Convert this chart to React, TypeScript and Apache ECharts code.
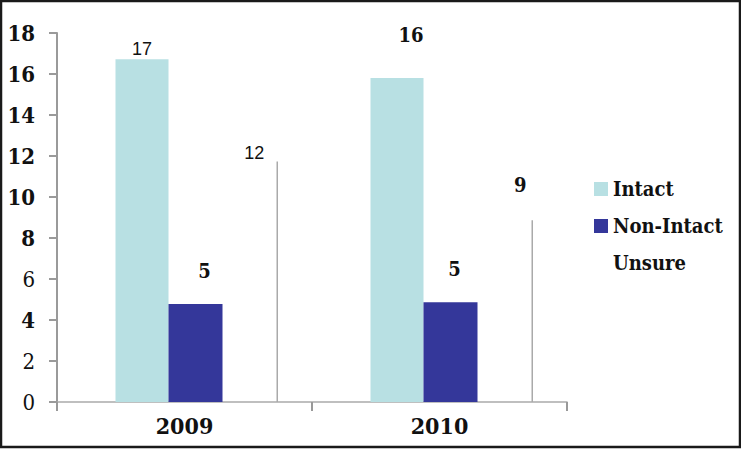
import React, { useEffect, useRef } from "react";
import * as echarts from "echarts";

const CATEGORIES = ["2009", "2010"];
const SERIES_NAMES = ["Intact", "Non-Intact", "Unsure"];
const INTACT = [16.72, 15.8];
const NON_INTACT = [4.78, 4.86];
const UNSURE = [11.73, 8.86];
const Y_TICKS_BOLD = [4, 8, 10, 12, 14, 16, 18];

const SERIF = "DejaVu Serif Condensed";
const SANS = "Liberation Sans";

const sansLabel = { fontFamily: SANS, fontSize: 18, fontWeight: "normal" as const };
const serifLabel = { fontFamily: SERIF, fontSize: 20, fontWeight: "bold" as const };

// label placement styles per data point (layout only)
const INTACT_LABELS = [
  { ...sansLabel, distance: 1, offset: [0, 0] },
  { ...serifLabel, distance: 33, offset: [14, 0] },
];
const NON_INTACT_LABELS = [
  { ...serifLabel, distance: 23, offset: [9, 0] },
  { ...serifLabel, distance: 23, offset: [4, 0] },
];
const UNSURE_LABELS = [
  { ...sansLabel, distance: 0, offset: [-23, 0] },
  { ...serifLabel, distance: 25, offset: [-12, 0] },
];

function withLabels(values: number[], styles: any[]) {
  return values.map((v, i) => ({
    value: v,
    label: {
      show: true,
      position: "top",
      color: "#111",
      formatter: (p: any) => String(Math.round(p.value)),
      ...styles[i],
    },
  }));
}

export default function App() {
  const ref = useRef<HTMLDivElement>(null);

  useEffect(() => {
    if (!ref.current) return;
    const chart = echarts.init(ref.current, undefined, { renderer: "svg" });
    const zeros = CATEGORIES.map(() => 0);
    const spacer = (w: number) => ({
      type: "bar",
      name: "_spacer",
      data: zeros,
      barWidth: w,
      barGap: "0%",
      silent: true,
      itemStyle: { color: "rgba(0,0,0,0)" },
      label: { show: false },
    });
    chart.setOption({
      animation: false,
      backgroundColor: "#ffffff",
      grid: { left: 57, right: 174, top: 33, bottom: 47, containLabel: false },
      legend: {
        orient: "vertical",
        left: 589,
        top: 172,
        itemWidth: 14,
        itemHeight: 14,
        itemGap: 13,
        icon: "rect",
        selectedMode: false,
        data: [
          { name: SERIES_NAMES[0] },
          { name: SERIES_NAMES[1] },
          { name: SERIES_NAMES[2], itemStyle: { color: "rgba(0,0,0,0)", opacity: 0 } },
        ],
        textStyle: {
          fontFamily: SERIF,
          fontSize: 20,
          fontWeight: "bold",
          color: "#111",
          lineHeight: 24,
        },
      },
      xAxis: {
        type: "category",
        data: CATEGORIES,
        axisLine: { lineStyle: { color: "#aaaaaa", width: 1.5 } },
        axisTick: { show: true, length: 9, lineStyle: { color: "#999999", width: 2 } },
        axisLabel: {
          margin: 12,
          fontFamily: SERIF,
          fontSize: 23,
          fontWeight: "bold",
          color: "#111",
        },
      },
      yAxis: {
        type: "value",
        min: 0,
        max: 18,
        interval: 2,
        splitLine: { show: false },
        axisLine: { show: true, lineStyle: { color: "#9a9a9a", width: 2 } },
        axisTick: { show: true, length: 8, lineStyle: { color: "#9a9a9a", width: 2 } },
        axisLabel: {
          margin: 22,
          color: "#111",
          fontFamily: SERIF,
          fontSize: 22,
          formatter: (v: number) => (Y_TICKS_BOLD.includes(v) ? `{b|${v}}` : `{n|${v}}`),
          rich: {
            b: { fontFamily: SERIF, fontSize: 22, fontWeight: "bold", color: "#111" },
            n: { fontFamily: SERIF, fontSize: 22, fontWeight: "normal", color: "#111" },
          },
        },
      },
      series: [
        spacer(24.5),
        {
          type: "bar",
          name: SERIES_NAMES[0],
          barWidth: 53,
          barGap: "0%",
          itemStyle: { color: "#b8e0e3" },
          data: withLabels(INTACT, INTACT_LABELS),
        },
        {
          type: "bar",
          name: SERIES_NAMES[1],
          barWidth: 54,
          barGap: "0%",
          itemStyle: { color: "#34379a" },
          data: withLabels(NON_INTACT, NON_INTACT_LABELS),
        },
        spacer(54),
        {
          type: "bar",
          name: SERIES_NAMES[2],
          barWidth: 1.5,
          barGap: "0%",
          itemStyle: { color: "#aaaaaa" },
          data: withLabels(UNSURE, UNSURE_LABELS),
        },
      ],
      graphic: [
        {
          type: "rect",
          shape: { x: 1, y: 1, width: 739, height: 446 },
          style: { fill: "none", stroke: "#1a1a1a", lineWidth: 2.5 },
          silent: true,
          z: 100,
        },
      ],
    });
    return () => chart.dispose();
  }, []);

  return (
    <div
      ref={ref}
      style={{ position: "absolute", left: 0, top: 0, width: "741px", height: "449px" }}
    />
  );
}
